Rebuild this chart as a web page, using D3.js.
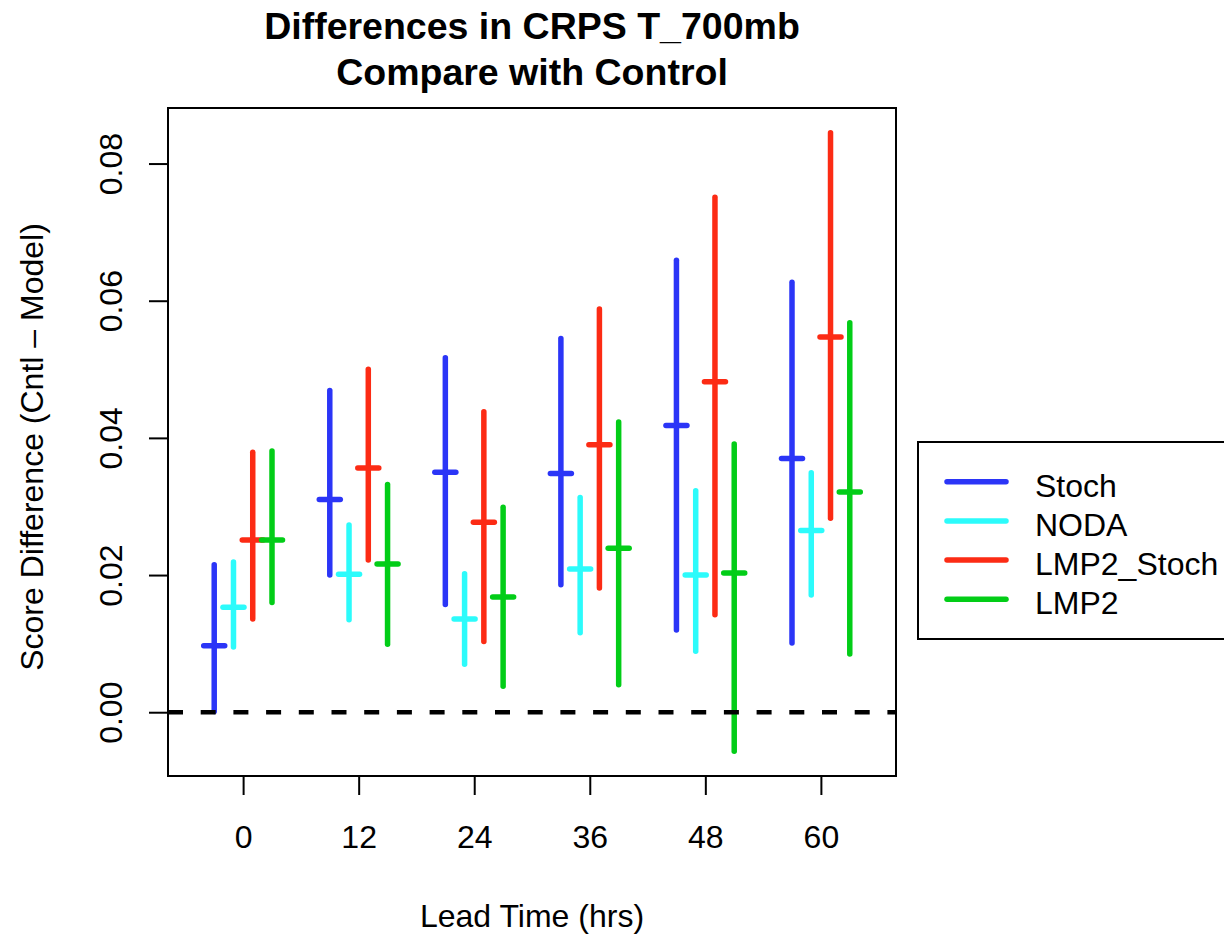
<!DOCTYPE html>
<html><head><meta charset="utf-8">
<script src="https://cdn.jsdelivr.net/npm/d3@7"></script>
<style>body{margin:0;background:#fff;} svg{display:block;font-family:"Liberation Sans",Arial,Helvetica,sans-serif;}</style>
</head><body>
<svg id="c" width="1224" height="934"></svg>
<script>
const leadTimes = [0, 12, 24, 36, 48, 60];
const seriesNames = ["Stoch", "NODA", "LMP2_Stoch", "LMP2"];
const seriesOffsets = [-3, -1, 1, 3];
const seriesColors = ["#2b35f7", "#2cfbfb", "#fc2b14", "#02cd17"];
// mean, lower, upper per lead time
const stochMean = [0.0097, 0.0310, 0.0350, 0.0348, 0.0418, 0.0370];
const stochLow  = [0.0001, 0.0200, 0.0157, 0.0186, 0.0120, 0.0101];
const stochHigh = [0.0215, 0.0469, 0.0517, 0.0545, 0.0659, 0.0627];
const nodaMean  = [0.0153, 0.0201, 0.0136, 0.0209, 0.0200, 0.0265];
const nodaLow   = [0.0095, 0.0135, 0.0070, 0.0116, 0.0089, 0.0171];
const nodaHigh  = [0.0219, 0.0273, 0.0202, 0.0313, 0.0323, 0.0349];
const lsMean    = [0.0251, 0.0356, 0.0277, 0.0390, 0.0482, 0.0547];
const lsLow     = [0.0136, 0.0222, 0.0103, 0.0181, 0.0142, 0.0283];
const lsHigh    = [0.0379, 0.0500, 0.0438, 0.0588, 0.0751, 0.0845];
const lmpMean   = [0.0251, 0.0216, 0.0168, 0.0239, 0.0203, 0.0321];
const lmpLow    = [0.0160, 0.0099, 0.0038, 0.0040, -0.0057, 0.0085];
const lmpHigh   = [0.0381, 0.0332, 0.0299, 0.0423, 0.0391, 0.0568];
const yTicks = [0, 0.02, 0.04, 0.06, 0.08];
const titleLines = ["Differences in CRPS T_700mb", "Compare with Control"];
const xTitle = "Lead Time (hrs)";
const yTitle = "Score Difference (Cntl \u2013 Model)";

const series = [
  {mean: stochMean, low: stochLow, high: stochHigh},
  {mean: nodaMean, low: nodaLow, high: nodaHigh},
  {mean: lsMean, low: lsLow, high: lsHigh},
  {mean: lmpMean, low: lmpLow, high: lmpHigh}
];

const L = 168, R = 896, T = 108, B = 776;
const svg = d3.select("#c");
const x = d3.scaleLinear().domain([-7.8, 67.8]).range([L, R]);
const y = d3.scaleLinear().domain([-0.0093, 0.0881]).range([B, T]);

// title
svg.append("g").selectAll("text").data(titleLines).join("text")
  .attr("x", (L + R) / 2).attr("y", (d, i) => 39 + i * 45.5)
  .attr("text-anchor", "middle").attr("font-size", 37.5).attr("font-weight", "bold")
  .text(d => d);

// bars
const g = svg.append("g");
series.forEach((s, si) => {
  const sg = g.append("g").attr("stroke", seriesColors[si]).attr("stroke-width", 5.5).attr("stroke-linecap", "round");
  leadTimes.forEach((t, i) => {
    const cx = x(t + seriesOffsets[si]);
    sg.append("line").attr("x1", cx).attr("x2", cx).attr("y1", y(s.low[i])).attr("y2", y(s.high[i]));
    sg.append("line").attr("x1", cx - 10.5).attr("x2", cx + 10.5).attr("y1", y(s.mean[i])).attr("y2", y(s.mean[i]));
  });
});

// zero line
svg.append("line").attr("x1", L).attr("x2", R).attr("y1", y(0)).attr("y2", y(0))
  .attr("stroke", "#000").attr("stroke-width", 4.5).attr("stroke-dasharray", "15,17.7");

// frame
svg.append("rect").attr("x", L).attr("y", T).attr("width", R - L).attr("height", B - T)
  .attr("fill", "none").attr("stroke", "#000").attr("stroke-width", 2);

// x axis
const xAxis = d3.axisBottom(x).tickValues(leadTimes).tickSize(19).tickPadding(0).tickFormat(d3.format("d"));
const xg = svg.append("g").attr("transform", `translate(0,${B})`).call(xAxis);
xg.select(".domain").remove();
xg.selectAll("line").attr("stroke-width", 2);
xg.selectAll("text").attr("y", 72).attr("dy", null).attr("font-size", 32)
  .attr("font-family", "Liberation Sans, Arial, sans-serif").attr("fill", "#000");

// y axis
const yAxis = d3.axisLeft(y).tickValues(yTicks).tickSize(19).tickFormat(d3.format(".2f"));
const yg = svg.append("g").attr("transform", `translate(${L},0)`).call(yAxis);
yg.select(".domain").remove();
yg.selectAll("line").attr("stroke-width", 2);
yg.selectAll("text").remove();
yg.selectAll(".tick").append("text")
  .attr("transform", "translate(-46,0) rotate(-90)")
  .attr("text-anchor", "middle").attr("font-size", 32).attr("fill", "#000")
  .text(d => d3.format(".2f")(d));

// axis titles
svg.append("text").attr("x", (L + R) / 2).attr("y", 926.5).attr("text-anchor", "middle")
  .attr("font-size", 32).text(xTitle);
svg.append("text").attr("transform", `translate(43,${(T + B) / 2 + 5}) rotate(-90)`)
  .attr("text-anchor", "middle").attr("font-size", 32).text(yTitle);

// legend
const lg = svg.append("g");
lg.append("rect").attr("x", 918).attr("y", 442).attr("width", 320).attr("height", 197)
  .attr("fill", "#fff").attr("stroke", "#000").attr("stroke-width", 2);
seriesNames.forEach((n, i) => {
  const yy = 481.7 + i * 39.2;
  lg.append("line").attr("x1", 947).attr("x2", 1006).attr("y1", yy).attr("y2", yy)
    .attr("stroke", seriesColors[i]).attr("stroke-width", 5.5).attr("stroke-linecap", "round");
  lg.append("text").attr("x", 1035).attr("y", yy + 15).attr("font-size", 32).text(n);
});
</script>
</body></html>
